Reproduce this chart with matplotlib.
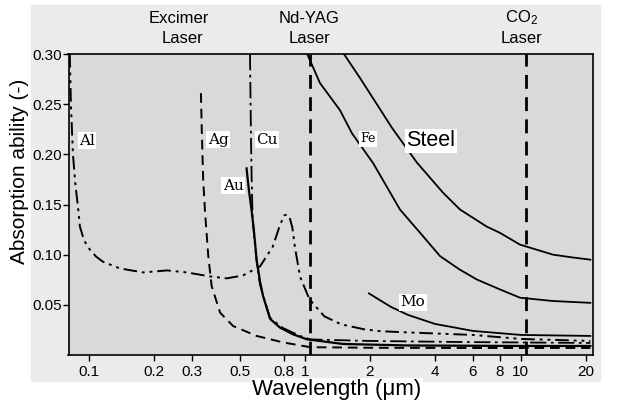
import matplotlib
matplotlib.use('Agg')
import matplotlib.pyplot as plt
from matplotlib.patches import Rectangle
from matplotlib.ticker import FixedLocator, NullLocator

plt.rcParams['font.family'] = ['Liberation Sans', 'DejaVu Sans']
plt.rcParams['mathtext.default'] = 'regular'

# wavelength in um, absorption ability (-)
al_wl = [0.0815, 0.0825, 0.0843, 0.0865, 0.0887, 0.0908, 0.095, 0.101, 0.108, 0.116, 0.139,
         0.178, 0.230, 0.284, 0.364, 0.435, 0.517, 0.620, 0.71, 0.76, 0.80, 0.825, 0.85,
         0.875, 0.90, 0.95, 1.05, 1.23, 1.47, 1.88, 2.24, 3.0, 6.0, 10.0, 21.0]
al_a = [0.30, 0.25, 0.20, 0.17, 0.15, 0.128, 0.114, 0.105, 0.098, 0.093, 0.0863,
        0.0823, 0.0843, 0.0823, 0.0783, 0.0764, 0.0793, 0.0883, 0.108, 0.127, 0.139, 0.140,
        0.137, 0.127, 0.107, 0.078, 0.0555, 0.0386, 0.0306, 0.0256, 0.0237, 0.0225, 0.020,
        0.016, 0.014]

ag_wl = [0.330, 0.333, 0.338, 0.345, 0.357, 0.370, 0.405, 0.465, 0.598, 0.794, 1.06, 2.0, 5.0, 10.0, 21.0]
ag_a = [0.261, 0.2245, 0.175, 0.142, 0.0985, 0.0687, 0.0422, 0.0289, 0.019, 0.0125, 0.0078,
        0.0072, 0.007, 0.007, 0.007]

cu_wl = [0.557, 0.563, 0.567, 0.573, 0.587, 0.60, 0.62, 0.645, 0.69, 0.79, 0.95, 1.06, 2.0, 5.0, 10.0, 21.0]
cu_a = [0.30, 0.2145, 0.175, 0.135, 0.11, 0.09, 0.07, 0.057, 0.037, 0.027, 0.019, 0.0155,
        0.014, 0.013, 0.0125, 0.012]

au_wl = [0.537, 0.55, 0.566, 0.58, 0.598, 0.62, 0.64, 0.69, 0.767, 0.88, 1.02, 1.5, 3.0, 10.0, 21.0]
au_a = [0.186, 0.165, 0.145, 0.125, 0.095, 0.073, 0.059, 0.036, 0.0273, 0.0207, 0.0157,
        0.011, 0.0095, 0.009, 0.009]

fe_wl = [1.025, 1.175, 1.454, 1.652, 2.074, 2.757, 3.41, 4.23, 5.2, 6.25, 8.0, 9.92, 14.1, 21.0]
fe_a = [0.30, 0.271, 0.244, 0.221, 0.191, 0.145, 0.122, 0.0985, 0.0853, 0.0753, 0.0654,
        0.0571, 0.0538, 0.052]

steel_wl = [1.517, 1.80, 2.135, 2.532, 3.305, 4.375, 5.23, 6.95, 8.0, 9.92, 14.1, 17.4, 21.0]
steel_a = [0.30, 0.2761, 0.2513, 0.2264, 0.1917, 0.1615, 0.145, 0.128, 0.1218, 0.110,
           0.100, 0.0972, 0.095]

mo_wl = [1.98, 2.5, 3.0, 4.0, 6.0, 10.0, 21.0]
mo_a = [0.0614, 0.048, 0.040, 0.031, 0.024, 0.020, 0.019]

lasers = [('Nd-YAG', 1.06), ('CO2', 10.6)]
excimer_wl = 0.26

xticks = [0.1, 0.2, 0.3, 0.5, 0.8, 1, 2, 4, 6, 8, 10, 20]
xticklabels = ['0.1', '0.2', '0.3', '0.5', '0.8', '1', '2', '4', '6', '8', '10', '20']
yticks = [0.05, 0.10, 0.15, 0.20, 0.25, 0.30]

fig = plt.figure(figsize=(6.25, 4.05), dpi=100, facecolor='white')
fig.patches.append(Rectangle((31 / 625, 1 - 381 / 405), 569 / 625, 376 / 405,
                             transform=fig.transFigure, color='#ebebeb', zorder=-5))
ax = fig.add_axes([68.5 / 625, 1 - 355 / 405, 524.5 / 625, 301 / 405], zorder=2)
ax.set_facecolor('#d9d9d9')
ax.set_xscale('log')
ax.set_xlim(0.0804, 21.6)
ax.set_ylim(0.0, 0.30)

lw = 1.4
ax.plot(al_wl, al_a, color='black', lw=lw, ls=(0, (7, 2.5, 1.5, 2.5, 1.5, 2.5)))
ax.plot(ag_wl, ag_a, color='black', lw=lw, ls=(0, (5, 3)))
ax.plot(cu_wl, cu_a, color='black', lw=1.3, ls=(0, (9, 2.5, 1.5, 2.5)))
ax.plot(au_wl, au_a, color='black', lw=1.6)
ax.plot(fe_wl, fe_a, color='black', lw=1.3)
ax.plot(steel_wl, steel_a, color='black', lw=1.3)
ax.plot(mo_wl, mo_a, color='black', lw=1.3)

for name, wl in lasers:
    ax.axvline(wl, color='black', lw=2.0, ls=(0, (5, 3)))

# top laser labels
tr = ax.get_xaxis_transform()
ax.text(excimer_wl, 1 + 36 / 301, 'Excimer', transform=tr, ha='center', va='center', fontsize=12)
ax.text(excimer_wl * 1.04, 1 + 16 / 301, 'Laser', transform=tr, ha='center', va='center', fontsize=12)
ax.text(1.05, 1 + 36 / 301, 'Nd-YAG', transform=tr, ha='center', va='center', fontsize=12)
ax.text(1.05, 1 + 16 / 301, 'Laser', transform=tr, ha='center', va='center', fontsize=12)
ax.text(10.1, 1 + 36 / 301, 'CO$_2$', transform=tr, ha='center', va='center', fontsize=12)
ax.text(10.1, 1 + 16 / 301, 'Laser', transform=tr, ha='center', va='center', fontsize=12)

# curve labels
box = dict(facecolor='white', edgecolor='none', pad=1.0)
serif = ['DejaVu Serif']
ax.text(0.098, 0.2135, 'Al', family=serif, fontsize=11, ha='center', va='center', bbox=box)
ax.text(0.396, 0.2145, 'Ag', family=serif, fontsize=11, ha='center', va='center', bbox=box)
ax.text(0.667, 0.2145, 'Cu', family=serif, fontsize=11, ha='center', va='center', bbox=box)
ax.text(0.465, 0.1688, 'Au', family=serif, fontsize=11, ha='center', va='center', bbox=box)
ax.text(1.96, 0.2155, 'Fe', family=serif, fontsize=9, ha='center', va='center', bbox=box)
ax.text(3.84, 0.2135, 'Steel', fontsize=15.5, ha='center', va='center', bbox=box)
ax.text(3.17, 0.0525, 'Mo', family=serif, fontsize=11, ha='center', va='center', bbox=box)

ax.xaxis.set_major_locator(FixedLocator(xticks))
ax.xaxis.set_minor_locator(NullLocator())
ax.set_xticklabels(xticklabels)
ax.set_yticks(yticks)
ax.set_yticklabels(['%.2f' % v for v in yticks])
ax.tick_params(direction='out', length=4, width=1, labelsize=11, color='black')
ax.tick_params(axis='y', pad=1)
ax.tick_params(axis='x', pad=3)
for s in ax.spines.values():
    s.set_linewidth(1.2)

fig.text(337 / 625, 1 - 390 / 405, 'Wavelength (\u03bcm)', fontsize=16, ha='center', va='center',
         bbox=dict(facecolor='white', edgecolor='none', pad=1.0))
fig.text(20 / 625, 1 - 171 / 405, 'Absorption ability (-)', fontsize=15, rotation=90,
         ha='center', va='center')

fig.savefig('out.png', dpi=100, facecolor='white')
